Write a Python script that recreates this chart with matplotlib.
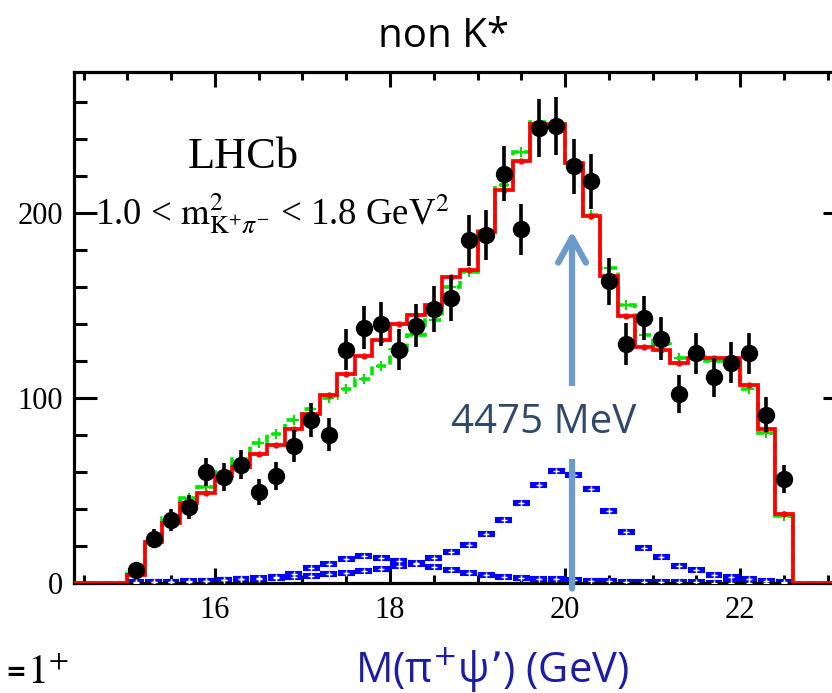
import numpy as np
import matplotlib
matplotlib.use("Agg")
import matplotlib.pyplot as plt
from matplotlib.ticker import MultipleLocator

# binning of the pi+ psi' mass spectrum
bin_lo, bin_hi, bin_w = 15.0, 22.6, 0.2
edges = np.round(np.linspace(bin_lo, bin_hi, 39), 2)
centers = (edges[:-1] + edges[1:]) / 2

# data candidates per bin
counts = [7, 24, 34, 41, 60, 57, 64, 49, 58, 74, 88, 80, 126, 138, 140, 126, 139, 148, 154,
          185, 188, 221, 191, 246, 247, 225, 217, 163, 129, 143, 132, 102, 124, 111, 119, 124, 91, 56]

# fit with Z(4475) (red) and without (green)
fit_z = [4.3, 22.3, 32.6, 43.4, 48.5, 57.8, 62.9, 69.7, 74.6, 83.0, 91.5, 101.5, 112.8, 122.5,
         131.0, 140.0, 145.0, 150.3, 165.4, 169.0, 189.4, 212.4, 227.7, 248.0, 248.0, 226.8,
         198.0, 166.0, 144.0, 127.7, 126.0, 118.7, 121.5, 121.5, 121.5, 107.0, 83.2, 37.1]
fit_noz = [5, 23, 35, 46, 52, 60, 67, 75.5, 80.5, 88, 94, 100, 105, 110, 117, 126, 134, 142, 160,
           168, 190, 215, 233, 249, 249, 226, 199, 170, 150, 134, 129, 121.5, 122, 120, 121, 105, 81, 36]

# Z components
z_main = [0.3, 0.5, 0.7, 1.0, 1.3, 1.6, 2.0, 2.4, 2.9, 3.4, 4.0, 4.7, 5.6, 6.6, 7.8, 9.2, 11.0,
          13.3, 16.8, 20.3, 26.2, 34.2, 43.0, 53.0, 60.5, 58.4, 50.6, 38.9, 27.7, 19.1, 13.9,
          9.4, 7.0, 4.3, 3.1, 2.0, 1.3, 0.3]
z_low = [0.2, 0.3, 0.5, 0.7, 1.0, 1.4, 1.9, 2.6, 3.5, 5.0, 7.9, 10.5, 13.0, 14.4, 13.6, 12.0,
         10.0, 8.4, 7.0, 5.4, 4.4, 3.5, 2.9, 2.3, 1.9, 1.5, 1.2, 1.0, 0.8, 0.6, 0.5, 0.4, 0.3,
         0.2, 0.2, 0.1, 0.1, 0.0]

arrow_x, arrow_top = 20.08, 190
xmin, xmax = 14.39, 23.21

fig = plt.figure(figsize=(8.32, 6.93), dpi=100)
ax = fig.add_axes([74 / 832, 1 - 583 / 693, (846 - 74) / 832, (583 - 72) / 693])

serif = "Liberation Serif"

# blue components: wide bars with small open crosses
for comp in (z_main, z_low):
    ax.errorbar(centers, comp, xerr=bin_w / 2 * 0.95, fmt="none", ecolor="#0000ff",
                elinewidth=4.4, zorder=2)
    ax.plot(centers, comp, ls="none", marker="+", ms=5, mew=1.0, color="white", zorder=3)

# fit histograms
ax.stairs(np.r_[0, fit_noz, 0], np.r_[xmin, edges, xmax], color="#00e600", lw=2.6,
          ls=(0, (2.5, 1.5)), zorder=3)
ax.plot(centers, fit_noz, ls="none", marker="+", ms=7, mew=1.5, color="#00e600", zorder=3)
ax.stairs(np.r_[0, fit_z, 0], np.r_[xmin, edges, xmax], color="#ff0000", lw=2.7, zorder=4)
ax.plot(centers, fit_z, ls="none", marker="o", ms=3.5, color="#ff0000", zorder=4)

# data
ax.errorbar(centers, counts, yerr=np.sqrt(counts), fmt="o", color="black", ms=11.5,
            elinewidth=2.6, capsize=0, zorder=5)

ax.set_xlim(xmin, xmax)
ax.set_ylim(0, 276)
ax.xaxis.set_major_locator(MultipleLocator(2))
ax.xaxis.set_minor_locator(MultipleLocator(0.5))
ax.yaxis.set_major_locator(MultipleLocator(100))
ax.yaxis.set_minor_locator(MultipleLocator(20))
ax.tick_params(axis="both", which="both", direction="in", top=True, right=True, width=2.2,
               labelsize=22)
ax.tick_params(axis="x", which="major", length=11, pad=9)
ax.tick_params(axis="x", which="minor", length=5.5)
ax.tick_params(axis="y", which="major", length=16.5, pad=8)
ax.tick_params(axis="y", which="minor", length=9.4)
for lab in ax.get_xticklabels() + ax.get_yticklabels():
    lab.set_fontfamily(serif)
for s in ax.spines.values():
    s.set_linewidth(2.3)

ax.text(16.33, 224, "LHCb", family=serif, fontsize=32, ha="center", va="baseline")
ax.text(14.63, 193.5, r"1.0 < $\mathrm{m}^{2}_{\mathrm{K}^{+}\pi^{-}}$ < 1.8 GeV$^{2}$",
        family=serif, math_fontfamily="stix", fontsize=26.5, ha="left", va="baseline")

# arrow marking the Z(4475) mass
ax.annotate("", xy=(arrow_x, arrow_top), xytext=(arrow_x, -3),
            arrowprops=dict(arrowstyle="->,head_length=0.9,head_width=0.5", lw=4.5,
                            color="#6a9bcb", mutation_scale=20, shrinkA=0, shrinkB=0),
            annotation_clip=False, zorder=6)
ax.text(19.76, 81, "4475 MeV", family="Open Sans", fontsize=29, color="#30496b",
        ha="center", va="baseline", zorder=7,
        bbox=dict(boxstyle="square,pad=0.4", fc="white", ec="none"))

fig.text(444 / 832, 1 - 47 / 693, "non K*", family="Open Sans", fontsize=29,
         ha="center", va="baseline")
fig.text(492 / 832, 1 - 682 / 693, "M(π$^{+}$ψ’) (GeV)", family="Open Sans",
         math_fontfamily="dejavusans", fontsize=30, color="#1c1ca6", ha="center", va="baseline")
fig.text(5 / 832, 1 - 680 / 693, "=", family="DejaVu Sans", fontweight="bold", fontsize=18,
         ha="left", va="baseline")
fig.text(27 / 832, 1 - 684 / 693, r"$1^{+}$", math_fontfamily="stix", fontsize=30,
         ha="left", va="baseline")

fig.savefig("out.png", dpi=100)
